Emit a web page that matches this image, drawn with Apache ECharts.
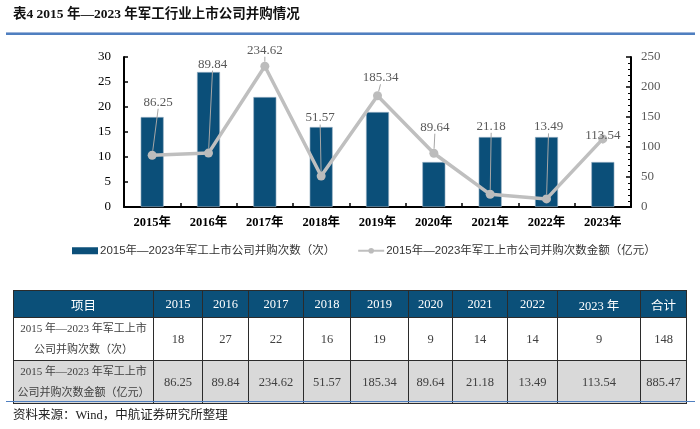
<!DOCTYPE html>
<html>
<head>
<meta charset="utf-8">
<script src="https://cdn.jsdelivr.net/npm/echarts@6/dist/echarts.min.js"></script>
<style>
  html, body { margin:0; padding:0; background:#fff; }
  #wrap { position:relative; width:700px; height:429px; overflow:hidden; }
  #chart { position:absolute; left:0; top:0; width:700px; height:429px; }
  #title { position:absolute; left:13px; top:2px; font-family:'Liberation Serif','Noto Sans CJK SC',serif; font-weight:bold; font-size:13.5px; color:#111; white-space:nowrap; }
  #rule { position:absolute; left:6px; top:32px; width:689px; height:1px; background:#9DB5DA; border-bottom:2px solid #4F7FC0; }
  #tbl { position:absolute; left:13px; top:290px; border-collapse:collapse; table-layout:fixed; font-family:'Liberation Serif','Noto Sans CJK SC',serif; color:#404040; }
  #tbl td { border:1.5px solid #2b2b2b; text-align:center; padding:0; font-size:12.5px; }
  #tbl tr.h td { background:#0B5079; color:#fff; height:26px; font-size:12.5px; }
  #tbl tr.r1 td { background:#fff; height:41px; }
  #tbl tr.r2 td { background:#D9D9D9; height:41px; }
  #tbl td.lab { font-size:11px; line-height:21px; }
  #bline { position:absolute; left:6px; top:401px; width:689px; height:1px; background:#4F7FC0; }
  #src { position:absolute; left:13px; top:404px; font-family:'Liberation Serif','Noto Sans CJK SC',serif; font-size:12.5px; color:#222; white-space:nowrap; }
</style>
</head>
<body>
<div id="wrap">
  <div id="chart"></div>
  <div id="title"></div>
  <div id="rule"></div>
  <table id="tbl"></table>
  <div id="bline"></div>
  <div id="src"></div>
</div>
<script>
// ---- data ----
const titleText = '表4  2015 年—2023 年军工行业上市公司并购情况';
const sourceText = '资料来源：Wind，中航证券研究所整理';
const categories = ['2015年','2016年','2017年','2018年','2019年','2020年','2021年','2022年','2023年'];
const counts = [18, 27, 22, 16, 19, 9, 14, 14, 9];
const amounts = [86.25, 89.84, 234.62, 51.57, 185.34, 89.64, 21.18, 13.49, 113.54];
const countName = '2015年—2023年军工上市公司并购次数（次）';
const amountName = '2015年—2023年军工上市公司并购次数金额（亿元）';
const tableHeader = ['项目','2015','2016','2017','2018','2019','2020','2021','2022','2023 年','合计'];
const rowLabels = ['2015 年—2023 年军工上市<br>公司并购次数（次）', '2015 年—2023 年军工上市<br>公司并购次数金额（亿元）'];
const rowTotals = ['148', '885.47'];
const leftTicks = { min: 0, max: 30, interval: 5 };
const rightTicks = { min: 0, max: 250, interval: 50 };

// ---- label placement offsets (style) ----
const labelOffsets = [[6,-37],[4,-73],[0,0],[-1,-42],[3,-2],[1,-10],[1,-52],[2,-56],[0,13]];
const colWidths = [140, 49, 46, 55, 47, 58, 44, 55, 50, 83, 46];

document.getElementById('title').textContent = titleText;
document.getElementById('src').textContent = sourceText;

// ---- table ----
(function(){
  const t = document.getElementById('tbl');
  let html = '<colgroup>' + colWidths.map(w => '<col style="width:' + w + 'px">').join('') + '</colgroup>';
  html += '<tr class="h">' + tableHeader.map(h => '<td>' + h + '</td>').join('') + '</tr>';
  html += '<tr class="r1"><td class="lab">' + rowLabels[0] + '</td>' + counts.map(v => '<td>' + v + '</td>').join('') + '<td>' + rowTotals[0] + '</td></tr>';
  html += '<tr class="r2"><td class="lab">' + rowLabels[1] + '</td>' + amounts.map(v => '<td>' + v.toFixed(2) + '</td>').join('') + '<td>' + rowTotals[1] + '</td></tr>';
  t.innerHTML = html;
  t.style.width = colWidths.reduce((a,b)=>a+b,0) + 'px';
})();

// ---- chart ----
const serif = "'Liberation Serif','Noto Sans CJK SC',serif";
const chart = echarts.init(document.getElementById('chart'), null, { renderer: 'canvas' });
chart.setOption({
  animation: false,
  grid: { left: 124, right: 69, top: 57, bottom: 222 },
  legend: {
    left: 67, top: 240,
    itemWidth: 26, itemHeight: 7, itemGap: 22,
    textStyle: { fontFamily: "'Liberation Sans','Noto Sans CJK SC',sans-serif", fontSize: 11.5, color: '#333', padding: [0,0,0,-3] },
    data: [
      { name: countName, icon: 'rect', itemStyle: { borderWidth: 0 } },
      { name: amountName }
    ]
  },
  xAxis: {
    type: 'category',
    data: categories,
    axisLine: { lineStyle: { color: '#000', width: 2 } },
    axisTick: { show: true, inside: true, length: 4, lineStyle: { color: '#000', width: 1.5 } },
    axisLabel: { fontFamily: serif, fontWeight: 'bold', fontSize: 12.5, color: '#000', margin: 10 }
  },
  yAxis: [
    {
      type: 'value', min: leftTicks.min, max: leftTicks.max, interval: leftTicks.interval,
      axisLine: { show: true, lineStyle: { color: '#000', width: 2 } },
      axisTick: { show: true, inside: true, length: 4, lineStyle: { color: '#000', width: 1.5 } },
      splitLine: { show: false },
      axisLabel: { fontFamily: serif, fontSize: 13, color: '#000', margin: 13 }
    },
    {
      type: 'value', min: rightTicks.min, max: rightTicks.max, interval: rightTicks.interval,
      position: 'right',
      axisLine: { show: true, lineStyle: { color: '#000', width: 2 } },
      axisTick: { show: true, inside: true, length: 5, lineStyle: { color: '#000', width: 1.5 } },
      minorTick: { show: true, splitNumber: 5, length: 3, lineStyle: { color: '#000', width: 1 } },
      splitLine: { show: false },
      minorSplitLine: { show: false },
      axisLabel: { fontFamily: serif, fontSize: 13, color: '#595959', margin: 10 }
    }
  ],
  series: [
    {
      name: countName,
      type: 'bar',
      data: counts,
      barWidth: 23,
      itemStyle: { color: '#0B4F79', borderColor: '#9FB6C8', borderWidth: 0.6 }
    },
    {
      name: amountName,
      type: 'line',
      yAxisIndex: 1,
      data: amounts,
      symbol: 'circle',
      symbolSize: 9,
      lineStyle: { color: '#BFBFBF', width: 3.5 },
      itemStyle: { color: '#BCBCBC' },
      label: {
        show: true, position: 'top', distance: 5,
        fontFamily: serif, fontSize: 13, color: '#595959',
        formatter: p => p.value.toFixed(2)
      },
      labelLine: { show: true, lineStyle: { color: '#A6A6A6', width: 1 } },
      labelLayout: function (params) {
        const o = labelOffsets[params.dataIndex];
        return { dx: o[0], dy: o[1] };
      },
      z: 3
    }
  ]
});
</script>
</body>
</html>
